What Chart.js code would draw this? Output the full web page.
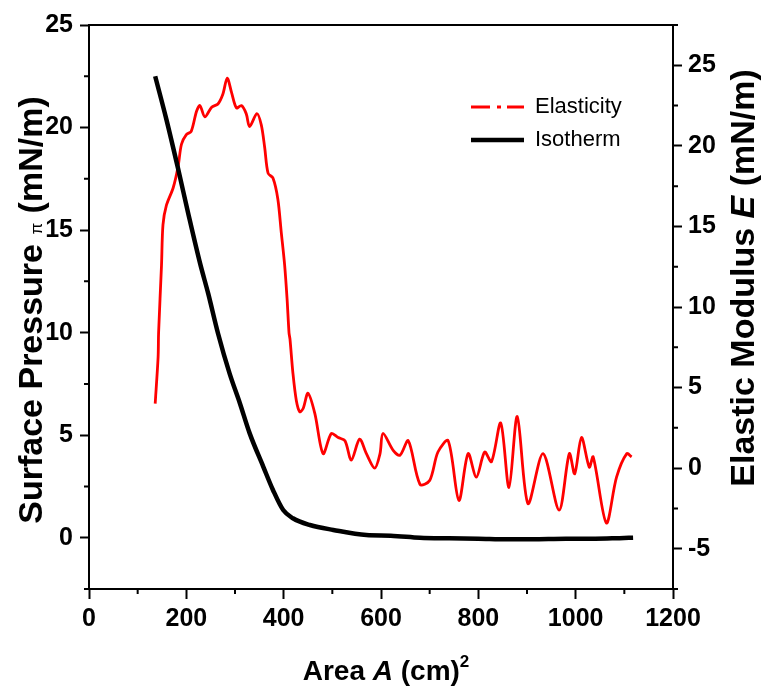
<!DOCTYPE html>
<html>
<head>
<meta charset="utf-8">
<script src="https://cdn.jsdelivr.net/npm/chart.js@4.4.1/dist/chart.umd.min.js"></script>
<style>
  html, body { margin: 0; padding: 0; background: #fff; }
</style>
</head>
<body>
<canvas id="isoChart" width="761" height="686"></canvas>
<script>
// isotherm: area (cm^2) vs surface pressure (mN/m), left axis
const isoArea = [136, 159, 183, 204, 228, 245, 265, 289, 310, 330, 358, 378, 399, 419, 454, 502, 570, 620, 680, 740, 800, 860, 920, 980, 1040, 1090, 1118];
const isoPressure = [22.5, 20.4, 18.0, 15.8, 13.4, 11.9, 9.97, 8.0, 6.56, 5.1, 3.47, 2.33, 1.35, 0.95, 0.62, 0.38, 0.13, 0.1, 0.0, -0.03, -0.05, -0.08, -0.07, -0.05, -0.05, -0.02, 0.0];

// elasticity: area (cm^2) vs elastic modulus (mN/m), right axis
const elArea = [136, 142, 143, 149, 152, 159, 173, 183, 190, 200, 210, 221, 228, 238, 252, 265, 275, 284, 293, 303, 313, 323, 330, 345, 354, 361, 368, 378, 388, 395, 402, 407, 411, 413, 419, 426, 433, 440, 450, 464, 481, 498, 512, 526, 539, 556, 570, 587, 598, 604, 625, 639, 656, 680, 700, 717, 738, 760, 779, 796, 813, 827, 846, 863, 880, 902, 933, 966, 987, 998, 1012, 1028, 1036, 1063, 1084, 1105, 1115];
const elModulus = [4.0, 6.9, 8.4, 12.6, 15.1, 16.3, 17.4, 18.7, 20.1, 20.7, 20.9, 22.15, 22.5, 21.8, 22.4, 22.6, 23.2, 24.2, 23.3, 22.35, 22.5, 22.0, 21.2, 22.0, 21.3, 19.9, 18.3, 18.0, 16.7, 14.65, 12.6, 10.5, 8.4, 8.0, 5.9, 4.2, 3.5, 3.7, 4.65, 3.4, 0.9, 2.15, 1.9, 1.7, 0.5, 1.8, 0.9, 0.0, 0.9, 2.15, 1.1, 0.8, 1.7, -1.0, -0.77, 1.0, 1.7, -2.0, 0.9, -0.56, 1.0, 0.4, 2.8, -1.2, 3.2, -2.2, 0.9, -2.6, 0.9, -0.35, 1.9, 0.06, 0.7, -3.4, -0.56, 0.9, 0.7];

const seriesNames = ['Isotherm', 'Elasticity'];
const xMinorTicks = [100, 300, 500, 700, 900, 1100];
const leftMinorTicks = [-2.5, 2.5, 7.5, 12.5, 17.5, 22.5];
const rightMinorTicks = [-7.5, -2.5, 2.5, 7.5, 12.5, 17.5, 22.5, 27.5];

const FONT = 'Arial, "Liberation Sans", sans-serif';

function toPoints(xs, ys) {
  return xs.map((x, i) => ({ x: x, y: ys[i] }));
}

function drawRich(ctx, parts, cx, cy, angle) {
  ctx.save();
  ctx.translate(cx, cy);
  ctx.rotate(angle);
  ctx.textBaseline = 'alphabetic';
  ctx.textAlign = 'left';
  let total = 0;
  parts.forEach(p => { ctx.font = p.font; total += ctx.measureText(p.text).width; });
  let x = -total / 2;
  parts.forEach(p => {
    ctx.font = p.font;
    ctx.fillText(p.text, x, p.dy || 0);
    x += ctx.measureText(p.text).width;
  });
  ctx.restore();
}

const framePlugin = {
  id: 'frame',
  afterDraw(chart) {
    const { ctx, chartArea } = chart;
    const xs = chart.scales.x, yl = chart.scales.y, yr = chart.scales.y1;
    ctx.save();
    ctx.strokeStyle = '#000';
    ctx.lineWidth = 2;
    // top border
    ctx.beginPath();
    ctx.moveTo(chartArea.left, chartArea.top);
    ctx.lineTo(chartArea.right, chartArea.top);
    ctx.stroke();
    // minor ticks
    ctx.beginPath();
    xMinorTicks.forEach(v => {
      const px = xs.getPixelForValue(v);
      ctx.moveTo(px, chartArea.bottom);
      ctx.lineTo(px, chartArea.bottom + 5);
    });
    leftMinorTicks.forEach(v => {
      const py = yl.getPixelForValue(v);
      ctx.moveTo(chartArea.left, py);
      ctx.lineTo(chartArea.left - 5, py);
    });
    rightMinorTicks.forEach(v => {
      const py = yr.getPixelForValue(v);
      ctx.moveTo(chartArea.right, py);
      ctx.lineTo(chartArea.right + 5, py);
    });
    ctx.stroke();

    // legend
    const lx0 = chartArea.right - 202, lx1 = chartArea.right - 149, tx = chartArea.right - 138;
    const rows = [
      { y: chartArea.top + 82, ds: chart.data.datasets[1], dash: [19, 7, 4, 6] },
      { y: chartArea.top + 115, ds: chart.data.datasets[0], dash: [] }
    ];
    rows.forEach(r => {
      ctx.beginPath();
      ctx.setLineDash(r.dash);
      ctx.strokeStyle = r.ds.borderColor;
      ctx.lineWidth = r.ds.borderWidth;
      ctx.lineCap = 'butt';
      ctx.moveTo(lx0, r.y);
      ctx.lineTo(lx1, r.y);
      ctx.stroke();
      ctx.setLineDash([]);
      ctx.fillStyle = '#000';
      ctx.font = '22px ' + FONT;
      ctx.textBaseline = 'middle';
      ctx.textAlign = 'left';
      ctx.fillText(r.ds.label, tx, r.y);
    });

    // axis titles
    ctx.fillStyle = '#000';
    drawRich(ctx, [
      { text: 'Surface Pressure ', font: 'bold 34px ' + FONT },
      { text: 'π', font: '17px ' + FONT },
      { text: ' (mN/m)', font: 'bold 34px ' + FONT }
    ], 42, 310, -Math.PI / 2);
    drawRich(ctx, [
      { text: 'Elastic Modulus ', font: 'bold 34px ' + FONT },
      { text: 'E', font: 'italic bold 34px ' + FONT },
      { text: ' (mN/m)', font: 'bold 34px ' + FONT }
    ], 754, 278, -Math.PI / 2);
    drawRich(ctx, [
      { text: 'Area ', font: 'bold 28px ' + FONT },
      { text: 'A', font: 'italic bold 28px ' + FONT },
      { text: ' (cm)', font: 'bold 28px ' + FONT },
      { text: '2', font: 'bold 17px ' + FONT, dy: -13 }
    ], (chartArea.left + chartArea.right) / 2 + 5, 680, 0);
    ctx.restore();
  }
};

function majorOnly(v) {
  return Math.abs(v % 5) < 1e-9 ? String(v) : '';
}

function majorTickColor(c) {
  return c.tick && Math.abs(c.tick.value % 5) < 1e-9 ? '#000' : 'rgba(0,0,0,0)';
}

new Chart(document.getElementById('isoChart'), {
  type: 'line',
  data: {
    datasets: [
      {
        label: seriesNames[0],
        data: toPoints(isoArea, isoPressure),
        borderColor: '#000000',
        borderWidth: 4.5,
        pointRadius: 0,
        cubicInterpolationMode: 'monotone',
        yAxisID: 'y'
      },
      {
        label: seriesNames[1],
        data: toPoints(elArea, elModulus),
        borderColor: '#ff0000',
        borderWidth: 2.8,
        pointRadius: 0,
        tension: 0.3,
        yAxisID: 'y1'
      }
    ]
  },
  options: {
    responsive: false,
    animation: false,
    layout: { padding: { top: 25, left: 0, right: 0, bottom: 0 } },
    plugins: { legend: { display: false }, tooltip: { enabled: false } },
    scales: {
      x: {
        type: 'linear',
        min: 0,
        max: 1200,
        ticks: { stepSize: 200, callback: v => String(v), color: '#000', padding: 5, font: { family: FONT, size: 25, weight: 'bold' } },
        grid: { drawOnChartArea: false, tickLength: 10, tickWidth: 2, tickColor: '#000' },
        border: { color: '#000', width: 2 },
        afterFit: s => { s.height = 97; }
      },
      y: {
        position: 'left',
        min: -2.5,
        max: 25,
        ticks: { stepSize: 2.5, autoSkip: false, callback: majorOnly, color: '#000', padding: 7, font: { family: FONT, size: 25, weight: 'bold' } },
        grid: { drawOnChartArea: false, tickLength: 9, tickWidth: 2, tickColor: majorTickColor },
        border: { color: '#000', width: 2 },
        afterFit: s => { s.width = 89; }
      },
      y1: {
        position: 'right',
        min: -7.5,
        max: 27.5,
        ticks: { stepSize: 2.5, autoSkip: false, callback: majorOnly, color: '#000', padding: 6, font: { family: FONT, size: 25, weight: 'bold' } },
        grid: { drawOnChartArea: false, tickLength: 9, tickWidth: 2, tickColor: majorTickColor },
        border: { color: '#000', width: 2 },
        afterFit: s => { s.width = 88; }
      }
    }
  },
  plugins: [framePlugin]
});
</script>
</body>
</html>
